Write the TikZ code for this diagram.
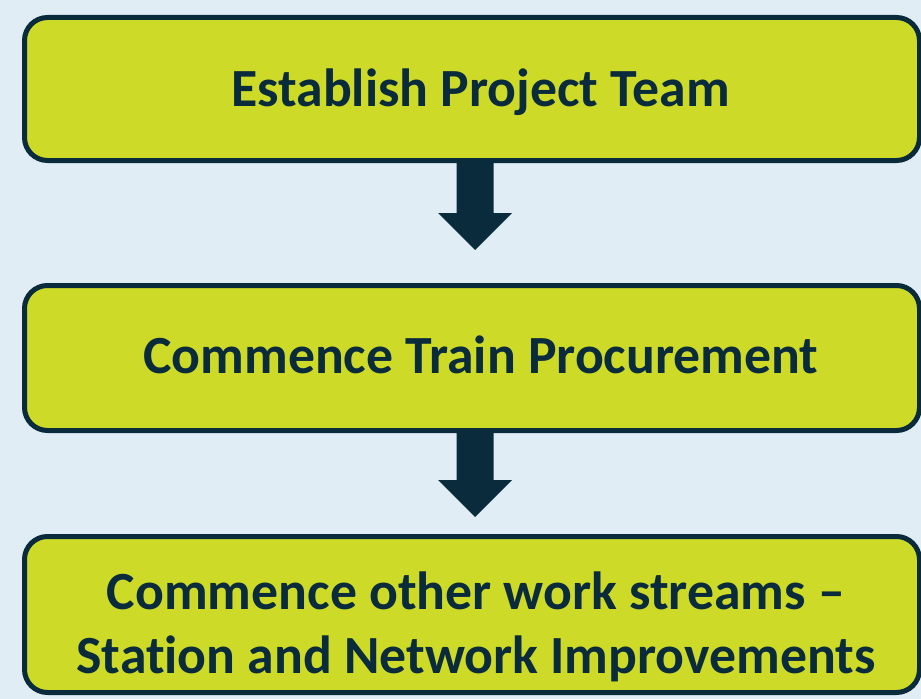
\documentclass[tikz,border=0pt]{standalone}
\usepackage{fontspec}
\setmainfont{Carlito}[Ligatures=NoCommon]
\usetikzlibrary{calc}

\definecolor{pagebg}{HTML}{E1EDF5}
\definecolor{stepfill}{HTML}{CDDA27}
\definecolor{navy}{HTML}{0A2B3C}

\begin{document}
\begin{tikzpicture}[x=0.75pt,y=-0.75pt]
  \tikzset{
    stepbox/.style={draw=navy, fill=stepfill, line width=5*0.75pt,
      rounded corners=23*0.75pt, minimum width=895*0.75pt, inner sep=0pt},
    steptext/.style={anchor=base, text=navy, align=center, inner sep=0pt,
      font=\fontsize{40.3}{48}\selectfont\bfseries},
    blockarrow/.style={fill=navy, draw=none}
  }
  % canvas
  \fill[pagebg] (0,0) rectangle (921,699);
  \useasboundingbox (0,0) rectangle (921,699);

  % the three steps
  \node[stepbox, minimum height=143*0.75pt] (b1) at (472,89) {};
  \node[stepbox, minimum height=145*0.75pt] (b2) at (472,358) {};
  \node[stepbox, minimum height=156*0.75pt] (b3) at (472,614.5) {};

  \node[steptext] (t1) at ($(b1.center)+(8.5,18)$) {Establish Project Team};
  \node[steptext] (t2) at ($(b2.center)+(9,15)$) {Commence Train Procurement};
  \node[steptext] (t3) at ($(b3.center)+(4,59)$)
    {Commence other work streams --\\Station and Network Improvements};

  % block arrows hanging from the bottom of each step
  \fill[blockarrow] ($(b1.south)+(-15.5,-2)$) -- ++(0,52) -- ++(-18.5,0)
    -- ++(37,37) -- ++(37,-37) -- ++(-18.5,0) -- ++(0,-52) -- cycle;
  \fill[blockarrow] ($(b2.south)+(-15.5,-2)$) -- ++(0,49) -- ++(-18.5,0)
    -- ++(37,37) -- ++(37,-37) -- ++(-18.5,0) -- ++(0,-49) -- cycle;
\end{tikzpicture}
\end{document}
